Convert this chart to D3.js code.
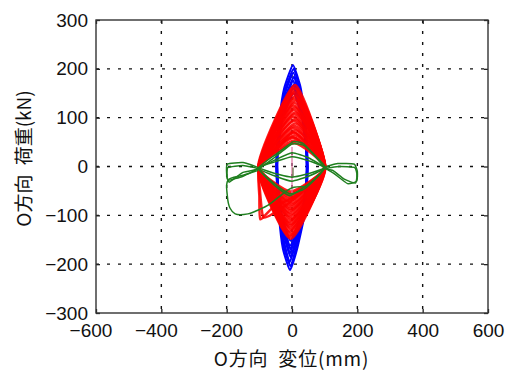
<!DOCTYPE html>
<html lang="ja">
<head>
<meta charset="UTF-8" />
<title>O方向 荷重-変位</title>
<script src="https://d3js.org/d3.v7.min.js"></script>
<style>
  body { margin: 0; background: #fff; }
  .tick text { font-family: "Liberation Sans", Arial, sans-serif; font-size: 19px; fill: #111; }
</style>
</head>
<body>
<div id="chart"></div>
<script>
// axis ranges and ticks
const xTicks = [-600, -400, -200, 0, 200, 400, 600];
const yTicks = [-300, -200, -100, 0, 100, 200, 300];
const xGrid = [-400, -200, 0, 200, 400];
const yGrid = [-200, -100, 0, 100, 200];

// blue loops: [disp(mm), load(kN)] vertices
const blueLoops = [
  [[46,-28],[46,25],[40,100],[27,160],[3,208],[-24,160],[-38,100],[-46,28],[-46,-25],[-40,-100],[-28,-168],[-6,-212],[16,-168],[38,-100]],
  [[45,-27],[45,24],[39,100],[25,155],[5,200],[-22,155],[-37,100],[-45,27],[-45,-24],[-39,-100],[-26,-162],[-5,-204],[14,-162],[37,-100]],
  [[47,-26],[47,26],[38,100],[23,150],[4,192],[-21,150],[-36,100],[-47,26],[-47,-26],[-38,-100],[-24,-155],[-7,-196],[13,-155],[36,-100]],
  [[45,-25],[45,23],[37,100],[21,145],[6,184],[-19,145],[-35,100],[-45,25],[-45,-23],[-37,-100],[-22,-148],[-4,-186],[12,-148],[35,-100]],
  [[46,-26],[46,25],[36,100],[19,140],[4,176],[-17,140],[-34,100],[-46,26],[-46,-25],[-36,-100],[-21,-142],[-6,-178],[11,-142],[34,-100]],
  [[44,-24],[44,22],[35,100],[17,135],[5,168],[-15,135],[-33,100],[-44,24],[-44,-22],[-35,-100],[-20,-136],[-5,-170],[10,-136],[33,-100]],
  [[46,-27],[46,24],[33,100],[4,160],[-31,100],[-46,27],[-46,-24],[-33,-100],[-6,-162],[31,-100]],
  [[45,-25],[45,23],[31,100],[5,150],[-29,100],[-45,25],[-45,-23],[-31,-100],[-5,-152],[29,-100]]
];

// red loops: left, top, right, bottom vertices
const redLoops = [
  [[-104,-2],[9,167],[99,-2],[-4,-148]],
  [[-101,-3],[7,162],[101,-3],[-6,-144]],
  [[-102,-2],[10,158],[100,-1],[-5,-141]],
  [[-100,-4],[8,153],[102,-3],[-3,-137]],
  [[-103,-3],[6,149],[98,-2],[-7,-133]],
  [[-100,-1],[9,144],[100,-4],[-4,-129]],
  [[-102,-3],[7,139],[101,-2],[-5,-125]],
  [[-99,-2],[10,135],[99,-3],[-6,-121]],
  [[-101,-4],[8,130],[102,-2],[-4,-118]],
  [[-103,-2],[6,125],[100,-1],[-7,-114]],
  [[-100,-3],[9,121],[99,-3],[-5,-110]],
  [[-102,-2],[7,116],[101,-2],[-3,-106]],
  [[-99,-4],[10,111],[100,-3],[-6,-102]],
  [[-101,-3],[8,107],[102,-2],[-4,-98]],
  [[-103,-2],[6,102],[98,-1],[-7,-94]],
  [[-100,-3],[9,97],[100,-3],[-5,-90]],
  [[-102,-1],[7,93],[101,-2],[-4,-87]],
  [[-99,-3],[10,88],[99,-4],[-6,-83]],
  [[-101,-2],[8,83],[102,-2],[-5,-79]],
  [[-103,-4],[6,79],[100,-3],[-3,-75]],
  [[-100,-2],[9,74],[101,-1],[-7,-71]],
  [[-102,-3],[7,69],[99,-3],[-5,-67]],
  [[-99,-2],[8,64],[100,-2],[-4,-63]],
  [[-101,-3],[6,59],[102,-3],[-6,-59]],
  [[-100,-2],[9,54],[100,-2],[-5,-55]],
  [[-102,-3],[7,48],[101,-3],[-4,-51]],
  [[-102,-6],[-60,30],[5,60],[100,-2],[10,-60],[-60,-85],[-97,-108],[-100,-60]],
  [[-100,-4],[-40,40],[8,70],[99,-3],[0,-70],[-55,-95],[-88,-104],[-98,-50]]
];

// green loops (closed)
const greenLoops = [
  [[-103,-3],[-60,20],[-31,34],[4,51],[35,47],[70,23],[101,-1],[70,-25],[40,-41],[-6,-60],[-42,-45],[-75,-25]],
  [[-100,-6],[-60,15],[0,46],[40,42],[98,-4],[40,-45],[-5,-56],[-45,-40]],
  [[-100,-2],[-50,10],[0,20],[50,12],[100,-2],[50,-15],[0,-22],[-50,-15]],
  [[-101,-4],[-50,14],[0,28],[50,18],[99,-3],[50,-20],[0,-30],[-50,-20]],
  [[-103,-3],[-150,8],[-198,5],[-200,-15],[-195,-28],[-150,-20]],
  [[-102,-5],[-150,2],[-196,-2],[-199,-20],[-192,-32],[-150,-12]],
  [[101,-2],[140,6],[190,5],[200,-10],[198,-30],[170,-35],[130,-15]],
  [[100,-4],[145,0],[192,-2],[199,-18],[194,-34],[160,-26],[125,-8]]
];

// green excursion to the lower left (open)
const greenPaths = [
  [[-103,-8],[-150,-18],[-196,-28],[-198,-60],[-190,-85],[-174,-97],[-135,-97],[-100,-88],[-73,-79],[-32,-58],[-1,-44],[40,-41]]
];

const grayLine = [[3,-2],[3,-22]];
const pinkLine = [[0,40],[0,-55]];

const W = 506, H = 371;
const x = d3.scaleLinear().domain([-600, 600]).range([96, 488]);
const y = d3.scaleLinear().domain([-300, 300]).range([313, 20]);

const svg = d3.select("#chart").append("svg")
  .attr("width", W).attr("height", H);

// grid
svg.append("g").selectAll("line").data(xGrid).join("line")
  .attr("x1", d => x(d)).attr("x2", d => x(d))
  .attr("y1", y(300)).attr("y2", y(-300))
  .attr("stroke", "#111").attr("stroke-width", 1.4)
  .attr("stroke-dasharray", "3,8");
svg.append("g").selectAll("line").data(yGrid).join("line")
  .attr("y1", d => y(d)).attr("y2", d => y(d))
  .attr("x1", x(-600)).attr("x2", x(600))
  .attr("stroke", "#111").attr("stroke-width", 1.4)
  .attr("stroke-dasharray", "3,8");

const closed = d3.line().x(d => x(d[0])).y(d => y(d[1]))
  .curve(d3.curveCardinalClosed.tension(0.55));
const redLine = d3.line().x(d => x(d[0])).y(d => y(d[1]))
  .curve(d3.curveCardinalClosed.tension(0.45));
const open = d3.line().x(d => x(d[0])).y(d => y(d[1]))
  .curve(d3.curveCatmullRom);

svg.append("g").selectAll("path").data(blueLoops).join("path")
  .attr("d", closed).attr("fill", "none")
  .attr("stroke", "#0000ff").attr("stroke-width", 2);

svg.append("g").selectAll("path").data(redLoops).join("path")
  .attr("d", redLine).attr("fill", "none")
  .attr("stroke", "#ff0000").attr("stroke-width", 2.5).attr("stroke-opacity", 0.88);

svg.append("path").attr("d", open(pinkLine)).attr("fill", "none")
  .attr("stroke", "#e070a0").attr("stroke-width", 1.2);
svg.append("path").attr("d", open(grayLine)).attr("fill", "none")
  .attr("stroke", "#808060").attr("stroke-width", 1.5);

svg.append("g").selectAll("path").data(greenLoops).join("path")
  .attr("d", closed).attr("fill", "none")
  .attr("stroke", "#1f7f1f").attr("stroke-width", 1.5);
svg.append("g").selectAll("path").data(greenPaths).join("path")
  .attr("d", open).attr("fill", "none")
  .attr("stroke", "#1f7f1f").attr("stroke-width", 1.5);

// axes with inward ticks
const fmtNeg = g => g.selectAll(".tick text")
  .attr("dx", d => d < 0 ? "-0.29em" : 0);

svg.append("g").attr("transform", `translate(0,${y(-300)})`)
  .call(d3.axisBottom(x).tickValues(xTicks).tickSize(-4).tickSizeOuter(0).tickPadding(11))
  .call(fmtNeg)
  .call(g => g.select(".domain").remove());
svg.append("g").attr("transform", `translate(${x(-600)},0)`)
  .call(d3.axisLeft(y).tickValues(yTicks).tickSize(-4).tickSizeOuter(0).tickPadding(8))
  .call(g => g.select(".domain").remove());
svg.append("g").attr("transform", `translate(0,${y(300)})`)
  .call(d3.axisTop(x).tickValues(xTicks).tickSize(-4).tickSizeOuter(0).tickFormat(""))
  .call(g => g.select(".domain").remove());
svg.append("g").attr("transform", `translate(${x(600)},0)`)
  .call(d3.axisRight(y).tickValues(yTicks).tickSize(-4).tickSizeOuter(0).tickFormat(""))
  .call(g => g.select(".domain").remove());
svg.selectAll(".tick line").attr("stroke", "#222").attr("stroke-width", 1.3);

// frame
svg.append("rect")
  .attr("x", x(-600)).attr("y", y(300))
  .attr("width", x(600) - x(-600)).attr("height", y(-300) - y(300))
  .attr("fill", "none").attr("stroke", "#333").attr("stroke-width", 1.4);

// axis titles
svg.append("text")
  .attr("x", 291.5).attr("y", 366)
  .attr("text-anchor", "middle")
  .attr("font-family", "'Noto Sans CJK JP', sans-serif").attr("font-size", 19)
  .attr("word-spacing", 5).attr("letter-spacing", 0.8)
  .attr("fill", "#111")
  .text("O方向 変位(mm)");
svg.append("text")
  .attr("transform", "translate(31,158.5) rotate(-90)")
  .attr("text-anchor", "middle")
  .attr("font-family", "'Noto Sans CJK JP', sans-serif").attr("font-size", 19)
  .attr("word-spacing", 5)
  .attr("fill", "#111")
  .text("O方向 荷重(kN)");
</script>
</body>
</html>
